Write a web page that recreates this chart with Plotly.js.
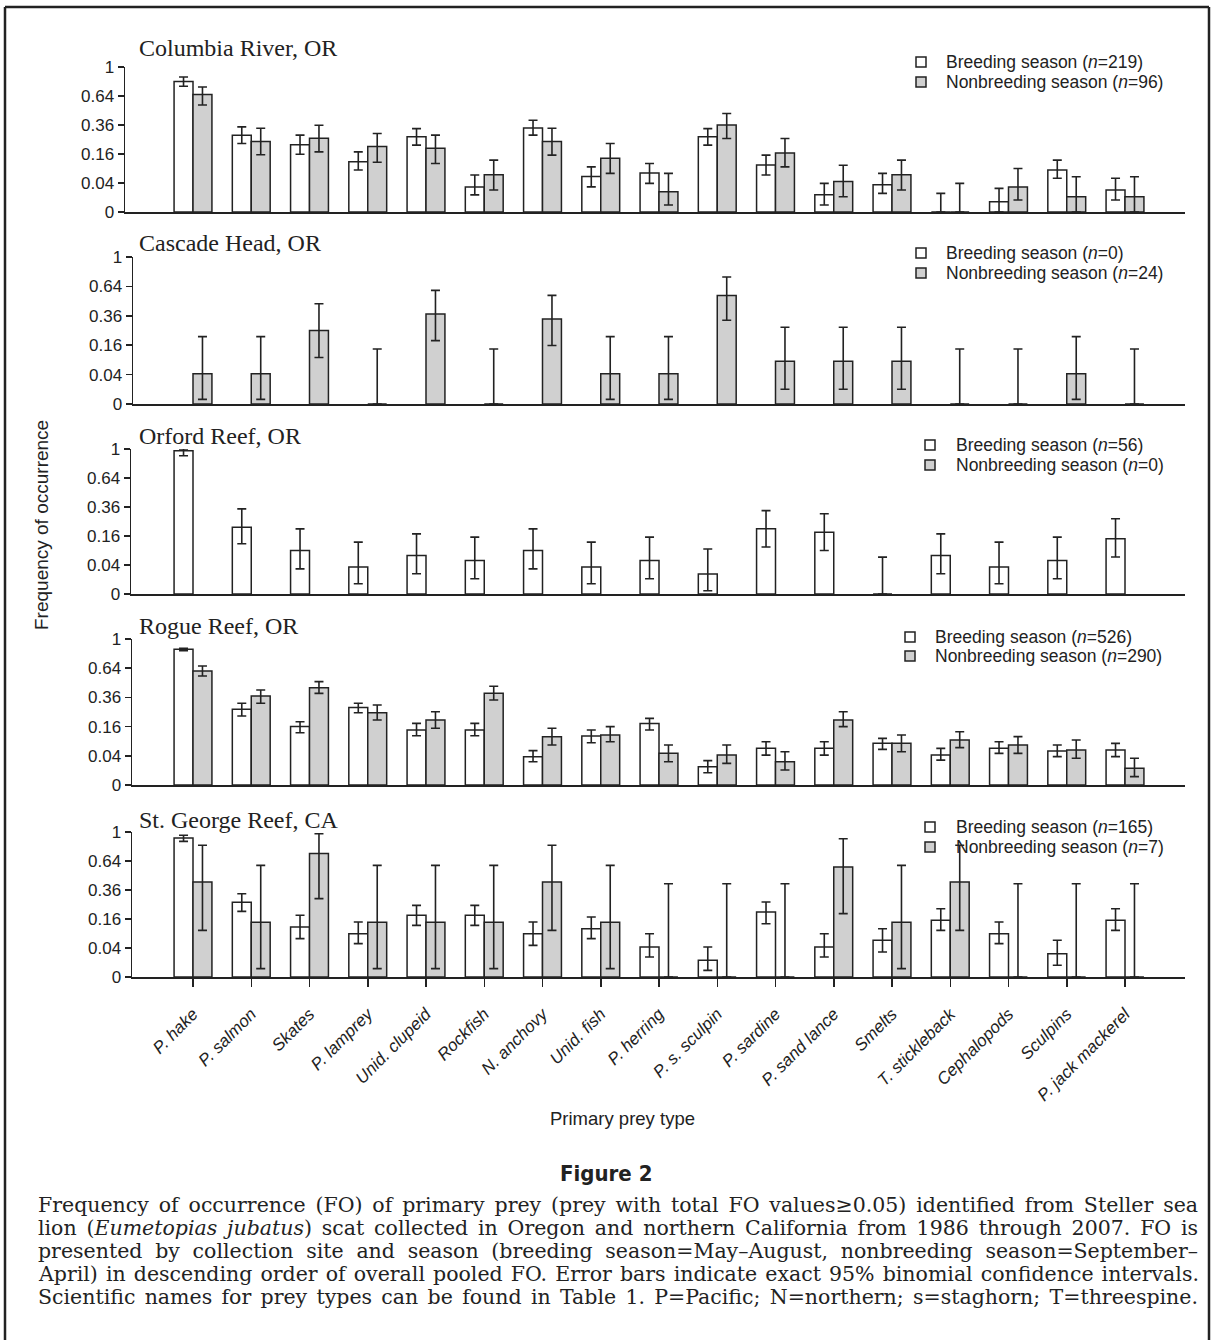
<!DOCTYPE html>
<html>
<head>
<meta charset="utf-8">
<script src="https://cdn.plot.ly/plotly-3.0.1.min.js"></script>
<style>
html,body{margin:0;padding:0;background:#fff;}
#chart{width:1212px;height:1340px;}
</style>
</head>
<body>
<div id="chart"></div>
<script>
// ---------------- DATA ----------------
const categories = ["P. hake","P. salmon","Skates","P. lamprey","Unid. clupeid","Rockfish","N. anchovy","Unid. fish","P. herring","P. s. sculpin","P. sardine","P. sand lance","Smelts","T. stickleback","Cephalopods","Sculpins","P. jack mackerel"];
const yTickValues = [0, 0.04, 0.16, 0.36, 0.64, 1];
const yTickLabels = ["0", "0.04", "0.16", "0.36", "0.64", "1"];

const siteNames = ["Columbia River, OR", "Cascade Head, OR", "Orford Reef, OR", "Rogue Reef, OR", "St. George Reef, CA"];
const breedingN = [219, 0, 56, 526, 165];
const nonbreedingN = [96, 24, 0, 290, 7];

// Columbia River
const colBreed   = [0.81, 0.28, 0.215, 0.12, 0.27, 0.03, 0.335, 0.06, 0.072, 0.27, 0.105, 0.014, 0.035, 0, 0.005, 0.084, 0.023];
const colBreedLo = [0.752, 0.223, 0.159, 0.084, 0.213, 0.014, 0.281, 0.03, 0.039, 0.213, 0.065, 0.0023, 0.0165, 0, 0, 0.054, 0.0068];
const colBreedHi = [0.867, 0.345, 0.281, 0.172, 0.331, 0.065, 0.401, 0.097, 0.112, 0.331, 0.154, 0.039, 0.071, 0.0165, 0.0265, 0.128, 0.054];
const colNon     = [0.656, 0.236, 0.259, 0.204, 0.194, 0.066, 0.236, 0.138, 0.0196, 0.361, 0.165, 0.0445, 0.066, 0, 0.03, 0.011, 0.011];
const colNonLo   = [0.545, 0.156, 0.172, 0.118, 0.112, 0.023, 0.154, 0.071, 0.0023, 0.257, 0.097, 0.011, 0.023, 0, 0.0068, 0, 0];
const colNonHi   = [0.744, 0.334, 0.358, 0.293, 0.281, 0.128, 0.334, 0.223, 0.071, 0.461, 0.257, 0.104, 0.128, 0.039, 0.09, 0.059, 0.059];

// Cascade Head (no breeding-season samples)
const casBreed   = [null, null, null, null, null, null, null, null, null, null, null, null, null, null, null, null, null];
const casBreedLo = [null, null, null, null, null, null, null, null, null, null, null, null, null, null, null, null, null];
const casBreedHi = [null, null, null, null, null, null, null, null, null, null, null, null, null, null, null, null, null];
const casNon     = [0.042, 0.042, 0.25, 0, 0.375, 0, 0.335, 0.042, 0.042, 0.545, 0.085, 0.085, 0.085, 0, 0, 0.042, 0];
const casNonLo   = [0.001, 0.001, 0.10, 0, 0.186, 0, 0.158, 0.001, 0.001, 0.325, 0.010, 0.010, 0.010, 0, 0, 0.001, 0];
const casNonHi   = [0.21, 0.21, 0.465, 0.14, 0.597, 0.14, 0.546, 0.21, 0.21, 0.746, 0.273, 0.273, 0.273, 0.14, 0.14, 0.21, 0.14];

// Orford Reef (no nonbreeding-season samples)
const orfBreed   = [0.977, 0.2125, 0.09, 0.0345, 0.0708, 0.0537, 0.09, 0.0345, 0.0537, 0.0189, 0.202, 0.182, 0, 0.0708, 0.0345, 0.0537, 0.145];
const orfBreedLo = [0.91, 0.12, 0.03, 0.005, 0.0196, 0.011, 0.03, 0.005, 0.011, 0.0005, 0.105, 0.09, 0, 0.0196, 0.005, 0.011, 0.065];
const orfBreedHi = [1.0, 0.345, 0.202, 0.128, 0.172, 0.154, 0.202, 0.128, 0.154, 0.096, 0.331, 0.306, 0.0648, 0.172, 0.128, 0.154, 0.269];
const orfNon     = [null, null, null, null, null, null, null, null, null, null, null, null, null, null, null, null, null];
const orfNonLo   = [null, null, null, null, null, null, null, null, null, null, null, null, null, null, null, null, null];
const orfNonHi   = [null, null, null, null, null, null, null, null, null, null, null, null, null, null, null, null, null];

// Rogue Reef
const rogBreed   = [0.863, 0.269, 0.16, 0.281, 0.142, 0.142, 0.0377, 0.1126, 0.178, 0.0158, 0.063, 0.063, 0.0814, 0.042, 0.063, 0.054, 0.0575];
const rogBreedLo = [0.846, 0.223, 0.128, 0.245, 0.114, 0.114, 0.0255, 0.084, 0.142, 0.0071, 0.042, 0.042, 0.0597, 0.029, 0.047, 0.0377, 0.0377];
const rogBreedHi = [0.876, 0.313, 0.188, 0.313, 0.178, 0.178, 0.0553, 0.142, 0.208, 0.0278, 0.088, 0.088, 0.102, 0.063, 0.088, 0.075, 0.0814];
const rogNon     = [0.61, 0.372, 0.444, 0.245, 0.198, 0.394, 0.1096, 0.117, 0.047, 0.0422, 0.0255, 0.198, 0.0814, 0.095, 0.075, 0.0575, 0.013];
const rogNonLo   = [0.557, 0.313, 0.394, 0.198, 0.151, 0.339, 0.075, 0.088, 0.0255, 0.022, 0.0106, 0.16, 0.052, 0.0654, 0.047, 0.0334, 0.0033];
const rogNonHi   = [0.664, 0.423, 0.501, 0.30, 0.252, 0.457, 0.151, 0.16, 0.075, 0.075, 0.052, 0.252, 0.117, 0.133, 0.1096, 0.095, 0.0334];

// St. George Reef
const sgrBreed   = [0.919, 0.265, 0.119, 0.089, 0.181, 0.181, 0.089, 0.111, 0.0428, 0.0132, 0.201, 0.0428, 0.064, 0.153, 0.089, 0.0259, 0.153];
const sgrBreedLo = [0.875, 0.205, 0.070, 0.053, 0.127, 0.127, 0.0477, 0.070, 0.019, 0.0021, 0.135, 0.019, 0.0297, 0.1036, 0.053, 0.0065, 0.1036];
const sgrBreedHi = [0.955, 0.33, 0.181, 0.144, 0.244, 0.244, 0.144, 0.171, 0.089, 0.0428, 0.2675, 0.089, 0.111, 0.222, 0.144, 0.064, 0.222];
const sgrNon     = [0.429, 0.143, 0.724, 0.143, 0.143, 0.143, 0.429, 0.143, 0, 0, 0, 0.5755, 0.143, 0.429, 0, 0, 0];
const sgrNonLo   = [0.1036, 0.0033, 0.292, 0.0033, 0.0033, 0.0033, 0.1036, 0.0033, 0, 0, 0, 0.191, 0.0033, 0.1036, 0, 0, 0];
const sgrNonHi   = [0.825, 0.593, 0.977, 0.593, 0.593, 0.593, 0.825, 0.593, 0.414, 0.414, 0.414, 0.91, 0.593, 0.825, 0.414, 0.414, 0.414];

const captionLines = [
  "Frequency of occurrence (FO) of primary prey (prey with total FO values\u22650.05) identified from Steller sea",
  "lion (<i>Eumetopias jubatus</i>) scat collected in Oregon and northern California from 1986 through 2007. FO is",
  "presented by collection site and season (breeding season=May\u2013August, nonbreeding season=September\u2013",
  "April) in descending order of overall pooled FO. Error bars indicate exact 95% binomial confidence intervals.",
  "Scientific names for prey types can be found in Table 1. P=Pacific; N=northern; s=staghorn; T=threespine."
];

// ---------------- LAYOUT / DRAWING ----------------
const W = 1212, H = 1340;
const px = x => x / W;
const py = y => 1 - y / H;

const breedSets = [[colBreed, colBreedLo, colBreedHi],[casBreed, casBreedLo, casBreedHi],[orfBreed, orfBreedLo, orfBreedHi],[rogBreed, rogBreedLo, rogBreedHi],[sgrBreed, sgrBreedLo, sgrBreedHi]];
const nonSets = [[colNon, colNonLo, colNonHi],[casNon, casNonLo, casNonHi],[orfNon, orfNonLo, orfNonHi],[rogNon, rogNonLo, rogNonHi],[sgrNon, sgrNonLo, sgrNonHi]];

// panel geometry in page pixels
const panels = [
  {top: 67,  bot: 212, left: 125, titleY: 48,  sqX: 916, txtX: 944, legY: [62, 82]},
  {top: 257, bot: 404, left: 133, titleY: 243, sqX: 916, txtX: 944, legY: [253, 273]},
  {top: 449, bot: 594, left: 131, titleY: 436, sqX: 925, txtX: 954, legY: [445, 465]},
  {top: 639, bot: 785, left: 132, titleY: 626, sqX: 905, txtX: 933, legY: [637, 656]},
  {top: 832, bot: 977, left: 132, titleY: 820, sqX: 925, txtX: 954, legY: [827, 847]}
];
const RIGHT = 1185, CAT0 = 193, STEP = 58.25;

const sq = v => (v === null ? null : Math.sqrt(v));
const ink = '#222';
const sans = 'Liberation Sans, Arial, sans-serif';

const traces = [];
const layout = {
  width: W, height: H,
  margin: {l: 0, r: 0, t: 0, b: 0},
  paper_bgcolor: '#fff', plot_bgcolor: 'rgba(0,0,0,0)',
  showlegend: false,
  barmode: 'group', bargap: 0.35, bargroupgap: 0,
  annotations: [], shapes: []
};

function errArrays(vals, lo, hi) {
  return {
    plus: vals.map((v, i) => v === null ? null : Math.sqrt(hi[i]) - Math.sqrt(v)),
    minus: vals.map((v, i) => v === null ? null : Math.sqrt(v) - Math.sqrt(lo[i]))
  };
}

panels.forEach((p, k) => {
  const xa = k === 0 ? 'x' : 'x' + (k + 1);
  const ya = k === 0 ? 'y' : 'y' + (k + 1);
  const xName = k === 0 ? 'xaxis' : 'xaxis' + (k + 1);
  const yName = k === 0 ? 'yaxis' : 'yaxis' + (k + 1);
  const sets = [[breedSets[k], '#ffffff'], [nonSets[k], '#d0d0d0']];
  sets.forEach(([s, fill]) => {
    const e = errArrays(s[0], s[1], s[2]);
    traces.push({
      type: 'bar', x: categories, y: s[0].map(sq), xaxis: xa, yaxis: ya,
      marker: {color: fill, line: {color: ink, width: 1.5}},
      error_y: {type: 'data', symmetric: false, array: e.plus, arrayminus: e.minus,
                color: ink, thickness: 1.6, width: 4.5},
      cliponaxis: false, hoverinfo: 'skip'
    });
  });
  const last = k === panels.length - 1;
  layout[xName] = {
    domain: [px(p.left), px(RIGHT)],
    range: [(p.left - CAT0) / STEP, (RIGHT - CAT0) / STEP],
    anchor: ya, type: 'category',
    showline: true, linecolor: ink, linewidth: 1.5,
    showgrid: false, zeroline: false,
    ticks: last ? 'outside' : '', ticklen: 8, tickwidth: 1.5, tickcolor: ink,
    showticklabels: last, tickangle: -45, ticklabelstandoff: 11,
    tickfont: {family: sans, size: 17, color: ink, style: 'italic'}
  };
  layout[yName] = {
    domain: [py(p.bot), py(p.top)],
    range: [0, 1], anchor: xa,
    showline: true, linecolor: ink, linewidth: 1.5,
    showgrid: false, zeroline: false,
    ticks: 'outside', ticklen: 6, tickwidth: 1.5, tickcolor: ink,
    tickvals: yTickValues.map(Math.sqrt), ticktext: yTickLabels,
    tickfont: {family: sans, size: 17, color: ink}
  };
  // panel title
  layout.annotations.push({
    xref: 'paper', yref: 'paper', x: px(137), y: py(p.titleY), xanchor: 'left', yanchor: 'middle',
    text: siteNames[k], showarrow: false,
    font: {family: 'Liberation Serif, Times New Roman, serif', size: 24, color: ink}
  });
  // legend
  const legTexts = ['Breeding season (<i>n</i>=' + breedingN[k] + ')', 'Nonbreeding season (<i>n</i>=' + nonbreedingN[k] + ')'];
  const legFills = ['#ffffff', '#d0d0d0'];
  [0, 1].forEach(j => {
    const cy = p.legY[j];
    layout.shapes.push({
      type: 'rect', xref: 'paper', yref: 'paper',
      x0: px(p.sqX), x1: px(p.sqX + 10), y0: py(cy + 5), y1: py(cy - 5),
      line: {color: ink, width: 1.5}, fillcolor: legFills[j]
    });
    layout.annotations.push({
      xref: 'paper', yref: 'paper', x: px(p.txtX), y: py(cy), xanchor: 'left', yanchor: 'middle',
      text: legTexts[j], showarrow: false,
      font: {family: sans, size: 17.5, color: ink}
    });
  });
});

// axis titles
layout.annotations.push({
  xref: 'paper', yref: 'paper', x: px(41), y: py(525), xanchor: 'center', yanchor: 'middle',
  text: 'Frequency of occurrence', textangle: -90, showarrow: false,
  font: {family: sans, size: 19, color: ink}
});
layout.annotations.push({
  xref: 'paper', yref: 'paper', x: px(622), y: py(1118), xanchor: 'center', yanchor: 'middle',
  text: 'Primary prey type', showarrow: false,
  font: {family: sans, size: 18.5, color: ink}
});
// figure label and caption
layout.annotations.push({
  xref: 'paper', yref: 'paper', x: px(606), y: py(1173), xanchor: 'center', yanchor: 'middle',
  text: '<b>Figure 2</b>', showarrow: false,
  font: {family: 'DejaVu Sans Condensed, DejaVu Sans, sans-serif', size: 22, color: ink}
});
const capY = [1205, 1228, 1251, 1274, 1297];
const captionIdx = [];
captionLines.forEach((t, i) => {
  captionIdx.push(layout.annotations.length);
  layout.annotations.push({
    xref: 'paper', yref: 'paper', x: px(36), y: py(capY[i]), xanchor: 'left', yanchor: 'middle',
    align: 'left', text: t, showarrow: false,
    font: {family: 'DejaVu Serif, serif', size: 20.5, color: ink}
  });
});
// outer frame
[[5, 7, 1209, 7], [5, 7, 5, 1340], [1209, 7, 1209, 1340]].forEach(l => {
  layout.shapes.push({type: 'line', xref: 'paper', yref: 'paper',
    x0: px(l[0]), y0: py(l[1]), x1: px(l[2]), y1: py(l[3]), line: {color: ink, width: 2.5}});
});

const CAPTION_WIDTH = 1160;
Plotly.newPlot('chart', traces, layout, {staticPlot: true, displayModeBar: false}).then(gd => {
  // justify caption lines (extra space between words) like the printed figure
  gd.querySelectorAll('g.annotation').forEach(g => {
    const idx = +g.getAttribute('data-index');
    if (captionIdx.indexOf(idx) >= 0) {
      const t = g.querySelector('text.annotation-text');
      if (!t) return;
      const natural = t.getComputedTextLength();
      const spaces = (t.textContent.match(/ /g) || []).length;
      if (natural < CAPTION_WIDTH && spaces > 0) {
        t.style.wordSpacing = ((CAPTION_WIDTH - natural) / spaces).toFixed(2) + 'px';
        const after = t.getComputedTextLength();
        if (Math.abs(after - CAPTION_WIDTH) > 4) {
          t.style.wordSpacing = '';
          t.setAttribute('textLength', CAPTION_WIDTH);
          t.setAttribute('lengthAdjust', 'spacing');
        }
      } else if (natural > CAPTION_WIDTH) {
        t.setAttribute('textLength', CAPTION_WIDTH);
        t.setAttribute('lengthAdjust', 'spacingAndGlyphs');
      }
    }
  });
});
</script>
</body>
</html>
